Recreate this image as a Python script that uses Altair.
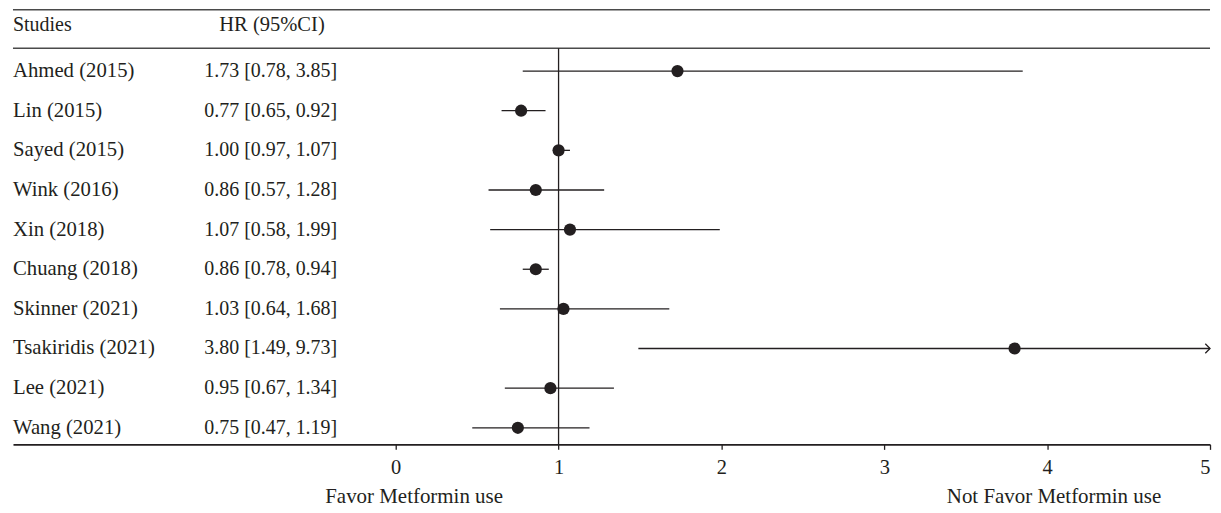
import altair as alt
import pandas as pd

studies = ["Ahmed (2015)", "Lin (2015)", "Sayed (2015)", "Wink (2016)", "Xin (2018)",
           "Chuang (2018)", "Skinner (2021)", "Tsakiridis (2021)", "Lee (2021)", "Wang (2021)"]
hr = [1.73, 0.77, 1.00, 0.86, 1.07, 0.86, 1.03, 3.80, 0.95, 0.75]
lo = [0.78, 0.65, 0.97, 0.57, 0.58, 0.78, 0.64, 1.49, 0.67, 0.47]
hi = [3.85, 0.92, 1.07, 1.28, 1.99, 0.94, 1.68, 9.73, 1.34, 1.19]
headers = ["Studies", "HR (95%CI)"]
footers = ["Favor Metformin use", "Not Favor Metformin use"]
footer_x = [0.113, 4.042]
x_ticks = [0, 1, 2, 3, 4, 5]

XMAX = 5
W, H = 1201, 436
INK = "#231f20"
FONT = "Liberation Serif"
FS = 20
FS_NAME = 20.8
Y_TOP = -0.546
HEAD_ROW = -0.156
HEAD_LINE = 0.422
Y_BOTTOM = 10.419

df = pd.DataFrame({
    "study": studies,
    "hr": hr,
    "lo": lo,
    "hi": hi,
    "row": list(range(1, len(studies) + 1)),
})
df["label"] = [f"{h:.2f} [{l:.2f}, {u:.2f}]" for h, l, u in zip(hr, lo, hi)]
df["hi_clip"] = df["hi"].clip(upper=XMAX)

xscale = alt.Scale(domain=[-2.35, XMAX], nice=False, zero=False)
yscale = alt.Scale(domain=[Y_TOP, Y_BOTTOM], nice=False, zero=False, reverse=True)

xaxis = alt.Axis(values=x_ticks, grid=False, title=None, tickSize=5, tickWidth=1.3,
                 tickColor=INK, domainColor=INK, domainWidth=1.6, labelFont=FONT,
                 labelFontSize=20.5, labelColor=INK, labelPadding=8, format="d")

base = alt.Chart(df)

ci = base.mark_rule(color=INK, strokeWidth=1.3).encode(
    x=alt.X("lo:Q", scale=xscale, axis=xaxis),
    x2="hi_clip:Q",
    y=alt.Y("row:Q", scale=yscale, axis=None),
)

pts = base.mark_circle(color=INK, size=150, opacity=1).encode(
    x=alt.X("hr:Q"),
    y=alt.Y("row:Q"),
)

arrow = base.transform_filter(f"datum.hi > {XMAX}").mark_point(
    shape="M-1,-1L0,0L-1,1", size=90, filled=False, color=INK, strokeWidth=1.3, opacity=1
).encode(
    x=alt.X("hi_clip:Q"),
    y=alt.Y("row:Q"),
)

vdf = pd.DataFrame({"xv": [1.0], "y1": [HEAD_LINE], "y2": [Y_BOTTOM]})
vline = alt.Chart(vdf).mark_rule(color=INK, strokeWidth=1.3).encode(
    x=alt.X("xv:Q"),
    y=alt.Y("y1:Q"),
    y2="y2:Q",
)

hldf = pd.DataFrame({"yv": [Y_TOP, HEAD_LINE]})
hlines = alt.Chart(hldf).mark_rule(color="#4a4a4a", strokeWidth=1.6).encode(
    x=alt.value(0), x2=alt.value(W), y=alt.Y("yv:Q")
)

study_txt = base.mark_text(align="left", baseline="middle", font=FONT, fontSize=FS_NAME, color=INK).encode(
    x=alt.value(0), y=alt.Y("row:Q"), text="study:N"
)
hr_txt = base.mark_text(align="left", baseline="middle", font=FONT, fontSize=FS, color=INK).encode(
    x=alt.value(192), y=alt.Y("row:Q"), text="label:N"
)

hdf = pd.DataFrame({"t": headers, "yv": [HEAD_ROW, HEAD_ROW]})
head1 = alt.Chart(hdf).transform_filter(alt.datum.t == headers[0]).mark_text(
    align="left", baseline="middle", font=FONT, fontSize=FS, color=INK).encode(
    x=alt.value(0), y=alt.Y("yv:Q"), text="t:N"
)
head2 = alt.Chart(hdf).transform_filter(alt.datum.t == headers[1]).mark_text(
    align="left", baseline="middle", font=FONT, fontSize=20.6, color=INK).encode(
    x=alt.value(207), y=alt.Y("yv:Q"), text="t:N"
)

fdf = pd.DataFrame({"t": footers, "xv": footer_x})
foot_txt = alt.Chart(fdf).mark_text(align="center", baseline="middle", font=FONT, fontSize=21, color=INK).encode(
    x=alt.X("xv:Q"), y=alt.value(489), text="t:N"
)

chart = alt.layer(ci, hlines, vline, arrow, pts, study_txt, hr_txt, head1, head2, foot_txt).properties(
    width=W, height=H, background="white",
    padding={"left": 4, "top": 0, "right": 0, "bottom": 0}
).configure_view(stroke=None)

chart.save("out.html", embed_options={"renderer": "svg", "actions": False})
